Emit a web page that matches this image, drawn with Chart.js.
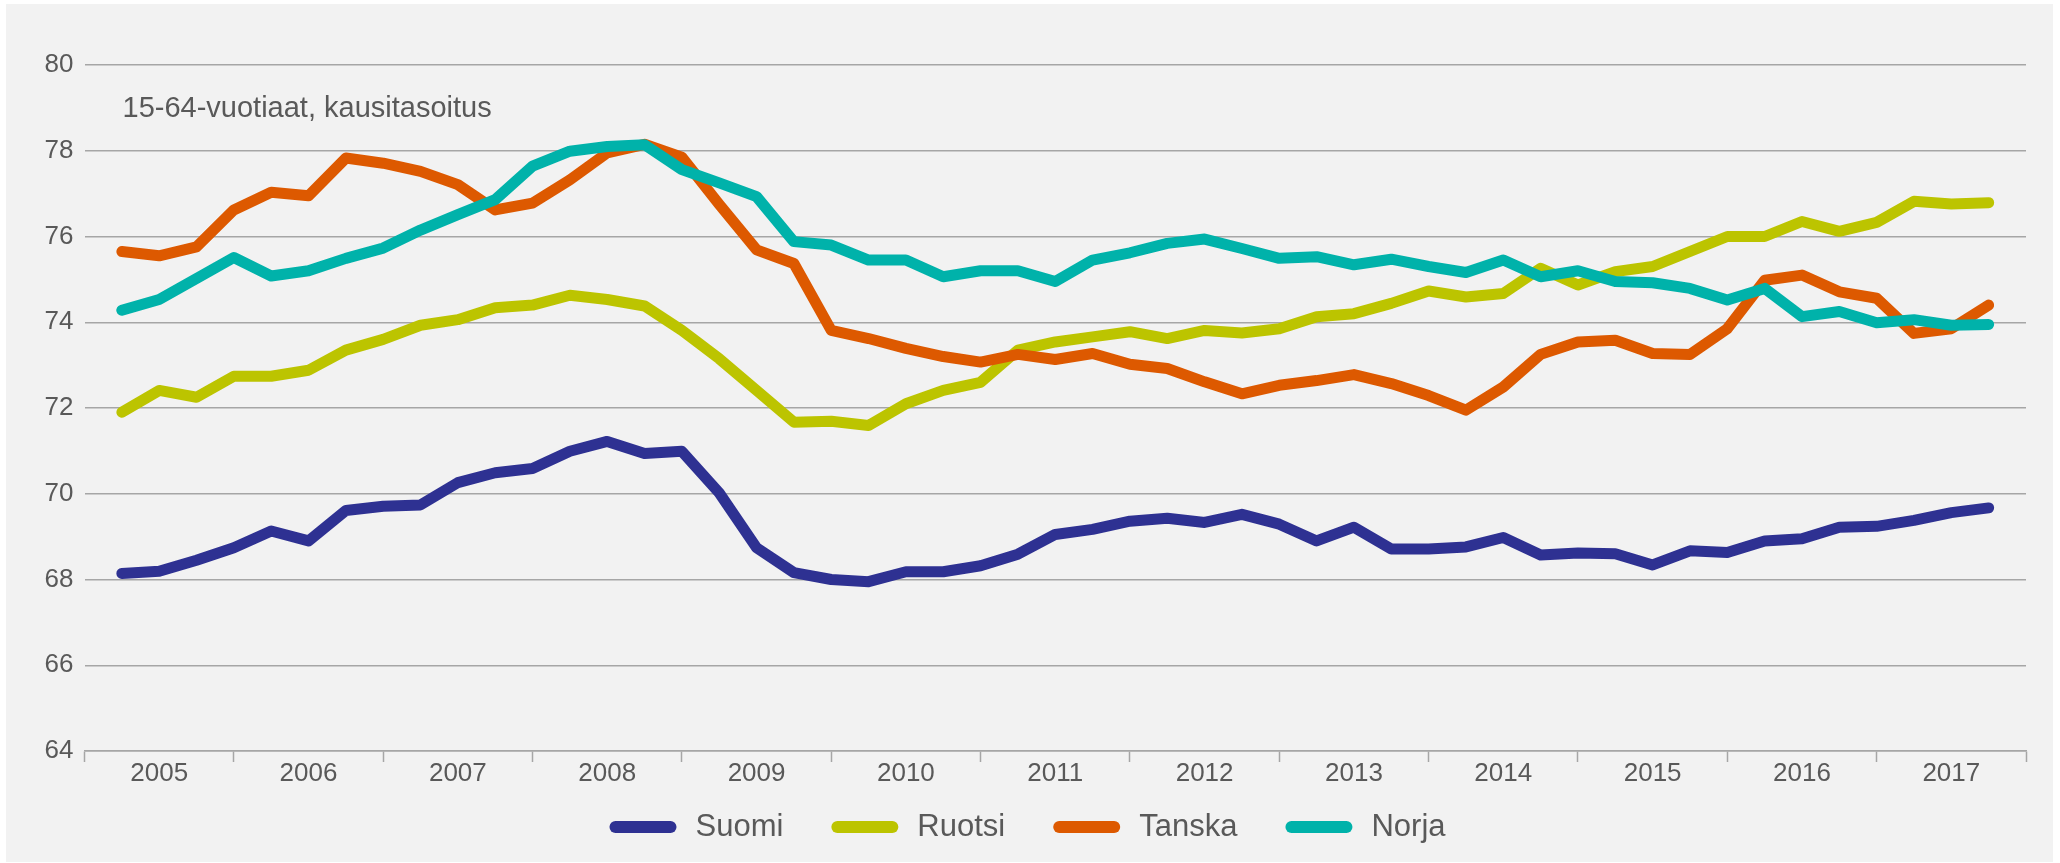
<!DOCTYPE html>
<html>
<head>
<meta charset="utf-8">
<script src="https://cdn.jsdelivr.net/npm/chart.js@4/dist/chart.umd.min.js"></script>
<style>
  html, body { margin: 0; padding: 0; background: #ffffff; }
  #wrap { position: absolute; left: 6px; top: 4px; width: 2047px; height: 858px; background: #f2f2f2; }
</style>
</head>
<body>
<div id="wrap"><canvas id="chart" width="2047" height="858"></canvas></div>
<script>
// quarterly employment rate, 15-64 year olds, seasonally adjusted
const quarters = [
  "2005Q1", "2005Q2", "2005Q3", "2005Q4", "2006Q1", "2006Q2", "2006Q3", "2006Q4",
  "2007Q1", "2007Q2", "2007Q3", "2007Q4", "2008Q1", "2008Q2", "2008Q3", "2008Q4",
  "2009Q1", "2009Q2", "2009Q3", "2009Q4", "2010Q1", "2010Q2", "2010Q3", "2010Q4",
  "2011Q1", "2011Q2", "2011Q3", "2011Q4", "2012Q1", "2012Q2", "2012Q3", "2012Q4",
  "2013Q1", "2013Q2", "2013Q3", "2013Q4", "2014Q1", "2014Q2", "2014Q3", "2014Q4",
  "2015Q1", "2015Q2", "2015Q3", "2015Q4", "2016Q1", "2016Q2", "2016Q3", "2016Q4",
  "2017Q1", "2017Q2", "2017Q3"
];

const suomi = [
  68.14, 68.19, 68.45, 68.74, 69.13, 68.90, 69.61, 69.71, 69.74, 70.26, 70.49, 70.59,
  70.99, 71.22, 70.94, 70.99, 70.02, 68.74, 68.16, 68.00, 67.95, 68.18, 68.18, 68.32,
  68.59, 69.05, 69.17, 69.36, 69.43, 69.33, 69.52, 69.29, 68.90, 69.22, 68.71, 68.71,
  68.76, 68.98, 68.57, 68.62, 68.60, 68.34, 68.67, 68.63, 68.90, 68.95, 69.22, 69.24,
  69.38, 69.56, 69.67
];
const ruotsi = [
  71.90, 72.41, 72.25, 72.74, 72.74, 72.88, 73.35, 73.60, 73.93, 74.06, 74.34, 74.40,
  74.63, 74.53, 74.38, 73.81, 73.15, 72.41, 71.67, 71.69, 71.59, 72.10, 72.41, 72.60,
  73.35, 73.54, 73.66, 73.78, 73.62, 73.81, 73.75, 73.85, 74.13, 74.20, 74.44, 74.73,
  74.59, 74.67, 75.26, 74.87, 75.18, 75.30, 75.65, 76.00, 76.00, 76.35, 76.12, 76.33,
  76.82, 76.76, 76.79
];
const tanska = [
  75.65, 75.55, 75.76, 76.62, 77.03, 76.95, 77.83, 77.71, 77.52, 77.21, 76.62, 76.78,
  77.32, 77.95, 78.15, 77.85, 76.75, 75.69, 75.37, 73.81, 73.62, 73.39, 73.20, 73.07,
  73.25, 73.13, 73.27, 73.02, 72.92, 72.61, 72.33, 72.53, 72.64, 72.78, 72.57, 72.29,
  71.95, 72.49, 73.25, 73.54, 73.58, 73.27, 73.25, 73.85, 74.98, 75.10, 74.71, 74.56,
  73.74, 73.85, 74.40
];
const norja = [
  74.28, 74.53, 75.02, 75.51, 75.08, 75.20, 75.49, 75.73, 76.15, 76.51, 76.86, 77.64,
  77.99, 78.10, 78.14, 77.56, 77.25, 76.93, 75.88, 75.80, 75.45, 75.45, 75.06, 75.20,
  75.20, 74.95, 75.45, 75.62, 75.84, 75.94, 75.72, 75.49, 75.53, 75.34, 75.47, 75.30,
  75.16, 75.45, 75.06, 75.20, 74.95, 74.92, 74.79, 74.52, 74.79, 74.13, 74.25, 73.99,
  74.06, 73.93, 73.95
];

const seriesNames = ["Suomi", "Ruotsi", "Tanska", "Norja"];
const seriesColors = ["#2e3192", "#bcc400", "#dd5900", "#00b2aa"];
const subtitle = "15-64-vuotiaat, kausitasoitus";

const textColor = "#595959";
const gridColor = "#a6a6a6";
const fontFamily = '"Liberation Sans", Arial, sans-serif';
Chart.defaults.font.family = fontFamily;
Chart.defaults.color = textColor;

// each point sits at the end of its quarter on a continuous year axis
const toX = (q) => parseInt(q.slice(0, 4)) + parseInt(q.slice(5)) / 4;
const toPoints = (values) => values.map((v, i) => ({ x: toX(quarters[i]), y: v }));

const allSeries = [suomi, ruotsi, tanska, norja];
const datasets = allSeries.map((values, i) => ({
  label: seriesNames[i],
  data: toPoints(values),
  borderColor: seriesColors[i],
  backgroundColor: seriesColors[i],
  borderWidth: 11,
  borderJoinStyle: "round",
  borderCapStyle: "round",
  pointRadius: 0,
  tension: 0,
  order: allSeries.length - i,
}));

const subtitlePlugin = {
  id: "subtitle",
  afterDraw(chart) {
    const { ctx, chartArea } = chart;
    ctx.save();
    ctx.font = "29px " + fontFamily;
    ctx.fillStyle = textColor;
    ctx.textBaseline = "middle";
    ctx.fillText(subtitle, chartArea.left + 38, chartArea.top + 44);
    ctx.restore();
  },
};

// legend row under the axis: rounded line swatch, then label
const legendPlugin = {
  id: "lineLegend",
  afterDraw(chart) {
    const { ctx } = chart;
    const swatchW = 67, swatchH = 12, gap = 19, spacing = 48;
    const y = chart.height - 35;
    ctx.save();
    ctx.font = "31px " + fontFamily;
    ctx.textBaseline = "middle";
    const items = chart.data.datasets.map((ds) => ({
      text: ds.label,
      color: ds.borderColor,
      width: ctx.measureText(ds.label).width,
    }));
    const total = items.reduce((s, it) => s + swatchW + gap + it.width, 0) + spacing * (items.length - 1);
    let x = chart.width / 2 - 2 - total / 2;
    items.forEach((it) => {
      ctx.fillStyle = it.color;
      ctx.beginPath();
      ctx.roundRect(x, y - swatchH / 2, swatchW, swatchH, swatchH / 2);
      ctx.fill();
      x += swatchW + gap;
      ctx.fillStyle = textColor;
      ctx.fillText(it.text, x, y);
      x += it.width + spacing;
    });
    ctx.restore();
  },
};

new Chart(document.getElementById("chart"), {
  type: "line",
  data: { datasets },
  plugins: [subtitlePlugin, legendPlugin],
  options: {
    responsive: false,
    devicePixelRatio: 1,
    animation: false,
    layout: { padding: { left: 0, right: 27, top: 61, bottom: 61 } },
    plugins: {
      tooltip: { enabled: false },
      legend: { display: false },
    },
    scales: {
      x: {
        type: "linear",
        min: 2005,
        max: 2018,
        afterFit: (scale) => { scale.height = 50; },
        ticks: {
          stepSize: 0.5,
          autoSkip: false,
          maxRotation: 0,
          minRotation: 0,
          padding: -1,
          font: { size: 26, lineHeight: 1 },
          color: textColor,
          callback: (v) => (v % 1 === 0.5 ? String(Math.floor(v)) : ""),
        },
        grid: {
          drawOnChartArea: false,
          drawTicks: true,
          tickLength: 11,
          tickWidth: 1.5,
          tickColor: (ctx) => (ctx.tick && ctx.tick.value % 1 === 0 ? gridColor : "rgba(0,0,0,0)"),
        },
        border: { display: true, color: gridColor, width: 1.5 },
      },
      y: {
        min: 64,
        max: 80,
        afterFit: (scale) => { scale.width = 78.5; },
        ticks: {
          stepSize: 2,
          padding: 11,
          font: { size: 26 },
          color: textColor,
        },
        grid: {
          color: gridColor,
          lineWidth: 1.5,
          drawTicks: false,
        },
        border: { display: false },
      },
    },
  },
});
</script>
</body>
</html>
